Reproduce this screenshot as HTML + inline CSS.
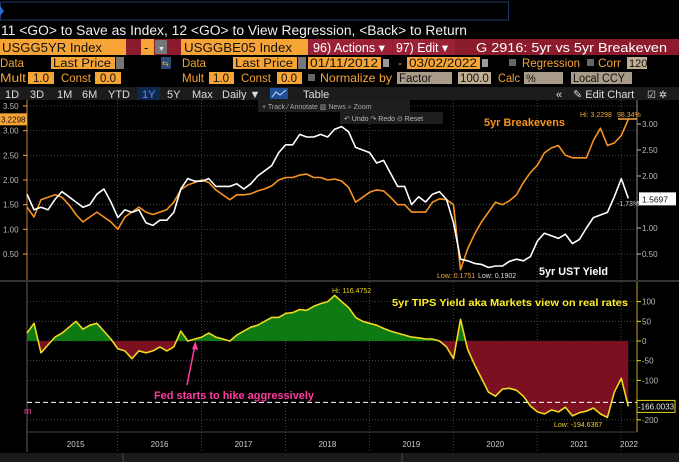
<!DOCTYPE html>
<html><head><meta charset="utf-8"><style>
html,body{margin:0;padding:0;background:#000;}
svg{display:block;font-family:"Liberation Sans",sans-serif;}
</style></head><body>
<svg id="c" width="679" height="462" viewBox="0 0 679 462">
<rect x="0" y="0" width="679" height="462" fill="#000"/>
<rect x="0.5" y="2" width="508" height="18" fill="#000" stroke="#1d3a66"/>
<polygon points="0,6 4,11 0,16" fill="#2a6ad0"/>
<text x="1" y="35" fill="#eee" font-size="13.5" textLength="466" lengthAdjust="spacingAndGlyphs">11 &lt;GO&gt; to Save as Index, 12 &lt;GO&gt; to View Regression, &lt;Back&gt; to Return</text>
<rect x="0" y="39" width="679" height="16" fill="#8c1c2c"/>
<rect x="0" y="39" width="126" height="16" fill="#f7a436"/>
<text x="2" y="52" font-size="13" fill="#111" textLength="100" lengthAdjust="spacingAndGlyphs">USGG5YR Index</text>
<rect x="141" y="39" width="13" height="16" fill="#f7a436"/>
<text x="144" y="52" font-size="13" fill="#111">-</text>
<rect x="155" y="40" width="12" height="14" fill="#777"/>
<text x="158" y="51" font-size="7" fill="#eee">▼</text>
<rect x="181" y="39" width="127" height="16" fill="#f7a436"/>
<text x="184" y="52" font-size="13" fill="#111" textLength="108" lengthAdjust="spacingAndGlyphs">USGGBE05 Index</text>
<rect x="309" y="39" width="83" height="16" fill="#9b2236"/>
<text x="313" y="52" font-size="12.5" fill="#fff" textLength="72" lengthAdjust="spacingAndGlyphs">96) Actions ▾</text>
<rect x="393" y="39" width="62" height="16" fill="#9b2236"/>
<text x="396" y="52" font-size="12.5" fill="#fff" textLength="52" lengthAdjust="spacingAndGlyphs">97) Edit ▾</text>
<rect x="457" y="39" width="222" height="16" fill="#8c1c2c"/>
<text x="476" y="52" font-size="13" fill="#fff" textLength="191" lengthAdjust="spacingAndGlyphs">G 2916: 5yr vs 5yr Breakeven</text>
<g font-size="12">
<text x="0" y="67" fill="#f7a436" textLength="24" lengthAdjust="spacingAndGlyphs">Data</text>
<rect x="51" y="57" width="64" height="12" fill="#f7a436"/>
<text x="53" y="67" fill="#111" font-size="11.5" textLength="58" lengthAdjust="spacingAndGlyphs">Last Price</text>
<rect x="116" y="57" width="8" height="12" fill="#777"/>
<rect x="161" y="57" width="10" height="12" fill="#2a4a7a"/>
<text x="162" y="66" fill="#f7a436" font-size="8">⇆</text>
<text x="182" y="67" fill="#f7a436" textLength="24" lengthAdjust="spacingAndGlyphs">Data</text>
<rect x="233" y="57" width="64" height="12" fill="#f7a436"/>
<text x="235" y="67" fill="#111" font-size="11.5" textLength="58" lengthAdjust="spacingAndGlyphs">Last Price</text>
<rect x="298" y="57" width="8" height="12" fill="#777"/>
<rect x="308" y="57" width="73" height="12" fill="#f7a436"/>
<text x="310" y="67" fill="#111" font-size="11.5" textLength="68" lengthAdjust="spacingAndGlyphs">01/11/2012</text>
<rect x="383" y="59" width="6" height="8" fill="#999"/>
<text x="398" y="67" fill="#f7a436">-</text>
<rect x="407" y="57" width="73" height="12" fill="#f7a436"/>
<text x="409" y="67" fill="#111" font-size="11.5" textLength="68" lengthAdjust="spacingAndGlyphs">03/02/2022</text>
<rect x="482" y="59" width="6" height="8" fill="#999"/>
<rect x="509" y="59" width="7" height="7" fill="#666"/>
<text x="522" y="67" fill="#f7a436" textLength="58" lengthAdjust="spacingAndGlyphs">Regression</text>
<rect x="587" y="59" width="7" height="7" fill="#666"/>
<text x="598" y="67" fill="#f7a436" textLength="23" lengthAdjust="spacingAndGlyphs">Corr</text>
<rect x="627" y="57" width="20" height="12" fill="#bfae92"/>
<text x="629" y="67" fill="#111" font-size="11">120</text>
</g>
<g font-size="12">
<text x="0" y="82" fill="#f7a436" textLength="26" lengthAdjust="spacingAndGlyphs">Mult</text>
<rect x="28" y="72" width="26" height="12" fill="#f7a436"/>
<text x="33" y="82" fill="#111" font-size="11.5">1.0</text>
<text x="61" y="82" fill="#f7a436" textLength="30" lengthAdjust="spacingAndGlyphs">Const</text>
<rect x="95" y="72" width="26" height="12" fill="#f7a436"/>
<text x="100" y="82" fill="#111" font-size="11.5">0.0</text>
<text x="182" y="82" fill="#f7a436" textLength="22" lengthAdjust="spacingAndGlyphs">Mult</text>
<rect x="209" y="72" width="25" height="12" fill="#f7a436"/>
<text x="213" y="82" fill="#111" font-size="11.5">1.0</text>
<text x="241" y="82" fill="#f7a436" textLength="30" lengthAdjust="spacingAndGlyphs">Const</text>
<rect x="277" y="72" width="25" height="12" fill="#f7a436"/>
<text x="281" y="82" fill="#111" font-size="11.5">0.0</text>
<rect x="308" y="74" width="7" height="7" fill="#666"/>
<text x="320" y="82" fill="#f7a436" textLength="72" lengthAdjust="spacingAndGlyphs">Normalize by</text>
<rect x="397" y="72" width="55" height="12" fill="#a89c88"/>
<text x="399" y="82" fill="#111" font-size="11.5">Factor</text>
<rect x="458" y="72" width="33" height="12" fill="#bfae92"/>
<text x="460" y="82" fill="#111" font-size="11.5">100.0</text>
<text x="498" y="82" fill="#f7a436" textLength="22" lengthAdjust="spacingAndGlyphs">Calc</text>
<rect x="524" y="72" width="39" height="12" fill="#a89c88"/>
<text x="526" y="82" fill="#111" font-size="11">%</text>
<rect x="571" y="72" width="61" height="12" fill="#a89c88"/>
<text x="573" y="82" fill="#111" font-size="11.5" textLength="52" lengthAdjust="spacingAndGlyphs">Local CCY</text>
</g>
<rect x="0" y="87" width="679" height="13" fill="#1c1c1c"/>
<rect x="138" y="87" width="22" height="13" fill="#10284c"/>
<g font-size="11" fill="#ddd">
<text x="5" y="98">1D</text>
<text x="30" y="98">3D</text>
<text x="57" y="98">1M</text>
<text x="82" y="98">6M</text>
<text x="108" y="98">YTD</text>
<text x="142" y="98" fill="#4a90ff">1Y</text>
<text x="167" y="98">5Y</text>
<text x="192" y="98">Max</text>
<text x="222" y="98">Daily ▼</text>
<text x="303" y="98">Table</text>
<text x="556" y="98">«</text>
<text x="573" y="98">✎ Edit Chart</text>
<text x="647" y="98" font-size="10">☑  ✲</text>
</g>
<rect x="270" y="88" width="18" height="11" fill="#1f4f9a"/>
<polyline points="272,97 276,92 280,95 286,90" fill="none" stroke="#cde" stroke-width="1"/>
<g id="chart"></g>
</svg>
<script>
// ---- data (monthly, starting late 2014 .. Mar 2022) ----
const startDate = 2014.92;
const yearLabels = ["2015","2016","2017","2018","2019","2020","2021","2022"];
const breakevenLeftTicks = [3.5,3.0,2.5,2.0,1.5,1.0,0.5];
const yieldRightTicks = [3.0,2.5,2.0,1.5,1.0,0.5];
const tipsTicks = [100,50,0,-50,-100,-200];
const ust5y = [1.65,1.35,1.40,1.35,1.55,1.70,1.60,1.50,1.40,1.45,1.65,1.75,
  1.50,1.20,1.35,1.30,1.35,1.10,1.05,1.15,1.15,1.30,1.75,1.95,
  1.90,1.90,1.95,1.80,1.80,1.80,1.85,1.75,1.85,2.00,2.10,2.20,
  2.45,2.60,2.60,2.80,2.75,2.75,2.80,2.75,2.90,2.95,2.85,2.55,
  2.50,2.45,2.25,2.30,2.05,1.80,1.80,1.45,1.60,1.50,1.65,1.70,
  1.55,1.10,0.40,0.37,0.32,0.30,0.24,0.27,0.27,0.36,0.40,0.37,
  0.45,0.75,0.90,0.85,0.80,0.88,0.70,0.78,1.00,1.20,1.25,1.30,
  1.60,1.95,1.57];
const breakeven5y = [1.45,1.25,1.60,1.65,1.70,1.65,1.50,1.30,1.15,1.25,1.35,1.25,
  1.15,1.00,1.25,1.35,1.45,1.35,1.30,1.35,1.40,1.55,1.80,1.90,
  1.95,2.00,1.95,1.80,1.70,1.60,1.70,1.70,1.72,1.78,1.82,1.88,
  2.00,2.05,2.05,2.10,2.12,2.05,2.05,2.00,2.02,1.98,1.85,1.55,
  1.65,1.75,1.80,1.78,1.65,1.50,1.50,1.35,1.35,1.35,1.55,1.62,
  1.60,1.50,0.18,0.60,0.90,1.15,1.35,1.55,1.50,1.58,1.70,1.95,
  2.15,2.30,2.55,2.65,2.70,2.50,2.45,2.45,2.45,2.80,3.05,2.70,
  2.75,2.90,3.23];
const tipsYield = [20,45,-30,-10,10,20,35,50,30,40,45,25,
  5,-20,-25,-45,-25,-30,-25,-15,-25,-15,25,0,
  5,10,20,10,5,0,15,25,35,40,50,60,
  60,70,72,80,78,88,95,100,116,100,85,60,
  50,45,40,32,25,20,15,10,8,5,5,0,
  -15,-45,55,-20,-60,-95,-130,-140,-122,-120,-125,-140,
  -165,-180,-185,-175,-180,-168,-190,-182,-178,-170,-185,-194,
  -130,-95,-166];

const X0 = 27, X1 = 637, T0 = 2014.92, T1 = 2022.19;
function xT(t){ return X0 + (t - T0) * (X1 - X0) / (T1 - T0); }
function xI(i){ return xT(startDate + i/12); }
function yLeft(v){ return 254 - (v - 0.5) * 49.33; }
function yRight(v){ return 254 - (v - 0.5) * 52; }
function yTips(v){ return 341 - v * 0.394; }

const NS = "http://www.w3.org/2000/svg";
const g = document.getElementById("chart");
function mk(tag, attrs, parent){
  const e = document.createElementNS(NS, tag);
  for (const k in attrs) e.setAttribute(k, attrs[k]);
  (parent || g).appendChild(e);
  return e;
}

const up = mk("rect",{x:0,y:100,width:679,height:180,fill:"#000"});


mk("rect",{x:0,y:280,width:679,height:2,fill:"#333"});
const lp = mk("rect",{x:0,y:282,width:679,height:150,fill:"#000"});



breakevenLeftTicks.forEach(v=>{
  const y = yLeft(v);
  mk("line",{x1:X0,x2:X1,y1:y,y2:y,stroke:"#555","stroke-dasharray":"1,2","stroke-width":0.8});
  mk("line",{x1:X0-4,x2:X0,y1:y,y2:y,stroke:"#f7a436"});
  const t = mk("text",{x:3,y:y+3,fill:"#bbb","font-size":8});
  t.textContent = v.toFixed(2);
  
  
});
yieldRightTicks.forEach(v=>{
  const y = yRight(v);
  mk("line",{x1:X1,x2:X1+4,y1:y,y2:y,stroke:"#bbb"});
  const t = mk("text",{x:642,y:y+3,fill:"#bbb","font-size":8});
  t.textContent = v.toFixed(2);
  
  
});
tipsTicks.forEach(v=>{
  const y = yTips(v);
  mk("line",{x1:X0,x2:X1,y1:y,y2:y,stroke:"#555","stroke-dasharray":"1,2","stroke-width":0.8});
  mk("line",{x1:X1,x2:X1+4,y1:y,y2:y,stroke:"#e8d41c"});
  const t = mk("text",{x:642,y:y+3,fill:"#bbb","font-size":8});
  t.textContent = String(v);
  
  
});
yearLabels.forEach((lab,k)=>{
  const Y = parseInt(lab);
  const xa = Math.max(X0, xT(Y)), xb = Math.min(X1, xT(Y+1));
  if (Y > 2015) {
    mk("line",{x1:xT(Y),x2:xT(Y),y1:100,y2:280,stroke:"#555","stroke-dasharray":"1,2","stroke-width":0.8});
    mk("line",{x1:xT(Y),x2:xT(Y),y1:282,y2:452,stroke:"#555","stroke-dasharray":"1,2","stroke-width":0.8});
  }
  const t = mk("text",{x:(xa+xb)/2,y:447,fill:"#ccc","font-size":8,"text-anchor":"middle"});
  t.textContent = lab;
  
  
});
mk("line",{x1:X0,x2:X0,y1:100,y2:280,stroke:"#f7a436","stroke-width":0.8});
mk("line",{x1:X1,x2:X1,y1:100,y2:280,stroke:"#aaa","stroke-width":0.8});
mk("line",{x1:X0,x2:X0,y1:282,y2:452,stroke:"#777","stroke-width":0.8});
mk("line",{x1:X1,x2:X1,y1:282,y2:432,stroke:"#e8d41c","stroke-width":0.8});
mk("line",{x1:X0,x2:X1,y1:432,y2:432,stroke:"#555","stroke-width":0.8});

function pts(arr, yf){ return arr.map((v,i)=>xI(i).toFixed(1)+","+yf(v).toFixed(1)).join(" "); }
const ol = mk("polyline",{points:pts(breakeven5y,yLeft),fill:"none",stroke:"#f7931e","stroke-width":1.6,"stroke-linejoin":"round"});


const wl = mk("polyline",{points:pts(ust5y,yRight),fill:"none",stroke:"#fff","stroke-width":1.6,"stroke-linejoin":"round"});



const defs = mk("defs",{});
const cpA = mk("clipPath",{id:"above"},defs); mk("rect",{x:0,y:282,width:679,height:yTips(0)-282},cpA);
const cpB = mk("clipPath",{id:"below"},defs); mk("rect",{x:0,y:yTips(0),width:679,height:432-yTips(0)},cpB);
const n = tipsYield.length;
const areaPts = pts(tipsYield,yTips) + " " + xI(n-1).toFixed(1)+","+yTips(0)+" "+xI(0).toFixed(1)+","+yTips(0);
const ga = mk("polygon",{points:areaPts,fill:"#0d7a12","clip-path":"url(#above)"});


const ra = mk("polygon",{points:areaPts,fill:"#7a1020","clip-path":"url(#below)"});


const yl = mk("polyline",{points:pts(tipsYield,yTips),fill:"none",stroke:"#f2d81e","stroke-width":1.6,"stroke-linejoin":"round"});


const last = tipsYield[n-1];
const dl = mk("line",{x1:X0,x2:X1,y1:yTips(last)-4,y2:yTips(last)-4,stroke:"#fff","stroke-dasharray":"5,3","stroke-width":1});



const lb = mk("rect",{x:0,y:yLeft(breakeven5y[breakeven5y.length-1])-6,width:27,height:12,fill:"#f7a436"});


const lbt = mk("text",{x:1,y:yLeft(breakeven5y[breakeven5y.length-1])+3,fill:"#111","font-size":8});
lbt.textContent = "3.2298";
const wb = mk("rect",{x:639,y:yRight(ust5y[ust5y.length-1])-6,width:37,height:13,fill:"#fff"});


const wbt = mk("text",{x:642,y:yRight(ust5y[ust5y.length-1])+4,fill:"#111","font-size":8.5});
wbt.textContent = "1.5697";
const yb = mk("rect",{x:637,y:yTips(last)-6,width:38,height:12,fill:"#000",stroke:"#e8d41c"});


const ybt = mk("text",{x:638,y:yTips(last)+3,fill:"#eee","font-size":8});
ybt.textContent = "-166.0033";

function label(txt,x,y,fill,size,bold,name,len){
  const t = mk("text",{x:x,y:y,fill:fill,"font-size":size,"font-weight":bold?"bold":"normal"});
  if (len) { t.setAttribute("textLength",len); t.setAttribute("lengthAdjust","spacingAndGlyphs"); }
  t.textContent = txt;
  
  
  return t;
}
label("5yr Breakevens",484,126,"#f7931e",11,true,"breakevens-annotation",81);
label("Hi: 3.2298",580,117,"#f7a436",7,false,"breakeven-high-label");
label("98.34%",617,117,"#f7a436",7,false,"breakeven-change-label");
mk("line",{x1:618,x2:637,y1:119,y2:119,stroke:"#f7a436","stroke-width":1.5});
label("-1.73%",617,206,"#ccc",7,false,"yield-change-label");
label("5yr UST Yield",539,275,"#fff",11,true,"ust-yield-annotation",69);
label("Low: 0.1751",437,278,"#f7a436",7,false,"breakeven-low-label");
label("Low: 0.1902",478,278,"#ddd",7,false,"yield-low-label");
label("Hi: 116.4752",332,293,"#e8d41c",7,false,"tips-high-label");
label("5yr TIPS Yield aka Markets view on real rates",392,306,"#ffee22",10.5,true,"tips-annotation",236);
label("Fed starts to hike aggressively",154,399,"#ff3aa0",11,true,"fed-hike-annotation",160);
label("Low: -194.6367",554,427,"#e8d41c",7,false,"tips-low-label");
label("m",24,414,"#ff3aa0",9,false,"pink-marker");
const ar = mk("line",{x1:187,y1:385,x2:195,y2:345,stroke:"#ff3aa0","stroke-width":1.5});


mk("polygon",{points:"195.5,341 192,349 198,350",fill:"#ff3aa0"});

const tb = mk("rect",{x:258,y:100,width:152,height:12,fill:"#1e1e1e"});


label("+ Track   ⁄ Annotate   ▥ News   ⌕ Zoom",262,109,"#aaa",7,false,"chart-tools-text");
const ub = mk("rect",{x:340,y:112,width:103,height:12,fill:"#1e1e1e"});


label("↶ Undo   ↷ Redo   ⊙ Reset",344,121,"#bbb",7,false,"undo-reset-text");

const bb = mk("rect",{x:0,y:453,width:679,height:9,fill:"#1a1a1a"});


mk("line",{x1:123,x2:123,y1:453,y2:462,stroke:"#444"});
mk("line",{x1:402,x2:402,y1:453,y2:462,stroke:"#444"});
</script>
</body></html>
